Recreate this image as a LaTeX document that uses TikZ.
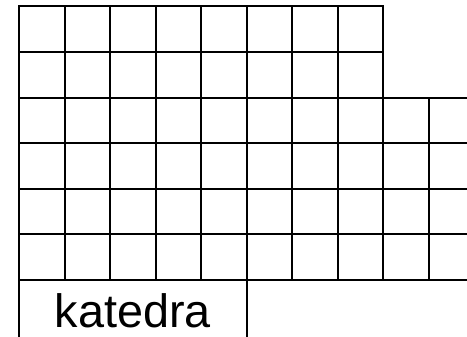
\documentclass[tikz,border=0pt]{standalone}
\usepackage{fontspec}
\setmainfont{Liberation Sans}
\usepackage{tikz}
\usetikzlibrary{positioning}

\begin{document}
\begin{tikzpicture}[
    x=1pt, y=-1pt,
    line cap=rect,
    %% --- semantic styles ---
    gridline/.style  = {draw=black, line width=2pt},
    desklabel/.style = {font=\fontsize{46.8}{50}\selectfont, inner sep=0pt,
                        anchor=base}
]
\useasboundingbox (0,0) rectangle (467,337);

%% =====================================================
%% Seats -- two short rows, four long rows
%% =====================================================
\def\cw{45.55}
\foreach \j in {0,1}
    \draw[gridline] (19, 6.5+\j*\cw) -- (19+8*\cw, 6.5+\j*\cw);
\foreach \j in {2,...,6}
    \draw[gridline] (19, 6.5+\j*\cw) -- (467, 6.5+\j*\cw);

\foreach \i in {1,...,8}
    \draw[gridline] (19+\i*\cw, 6.5) -- (19+\i*\cw, 6.5+6*\cw);
\draw[gridline] (19+9*\cw, 6.5+2*\cw) -- (19+9*\cw, 6.5+6*\cw);

%% =====================================================
%% Teacher's desk
%% =====================================================
\draw[gridline] (19, 6.5) -- (19, 337);
\draw[gridline] (19+5*\cw, 6.5+6*\cw) -- (19+5*\cw, 337);
\node[desklabel] (kat) at (132.8, 327.7) {katedra};

\end{tikzpicture}
\end{document}
